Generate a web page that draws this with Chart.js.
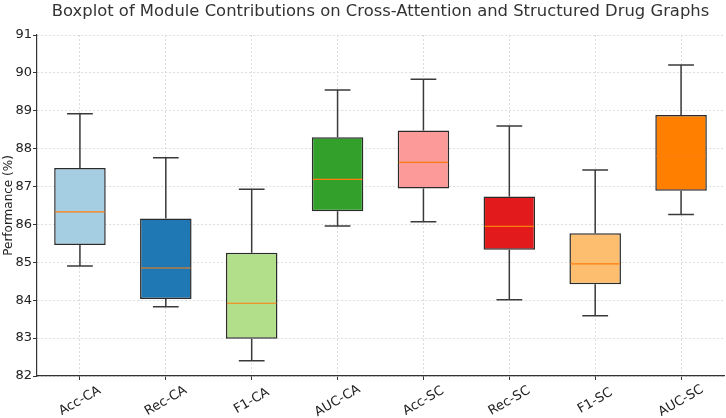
<!DOCTYPE html>
<html>
<head>
<meta charset="utf-8">
<script src="https://cdn.jsdelivr.net/npm/chart.js@4.4.0/dist/chart.umd.min.js"></script>
<style>
  html, body { margin: 0; padding: 0; background: #fff; }
  #wrap { width: 726px; height: 418px; }
</style>
</head>
<body>
<div id="wrap"><canvas id="chart" width="726" height="418"></canvas></div>
<script>
// values
const categories = ["Acc-CA", "Rec-CA", "F1-CA", "AUC-CA", "Acc-SC", "Rec-SC", "F1-SC", "AUC-SC"];
const whiskerLow = [84.90, 83.83, 82.40, 85.96, 86.07, 84.01, 83.59, 86.26];
const q1 = [85.46, 84.03, 82.98, 86.35, 86.95, 85.33, 84.42, 86.89];
const median = [86.33, 84.85, 83.92, 87.19, 87.64, 85.95, 84.96, 87.80];
const q3 = [87.49, 86.16, 85.25, 88.30, 88.48, 86.74, 85.77, 88.89];
const whiskerHigh = [88.92, 87.76, 86.93, 89.55, 89.83, 88.60, 87.44, 90.21];
const yTicks = [82, 83, 84, 85, 86, 87, 88, 89, 90, 91];

const titleText = "Boxplot of Module Contributions on Cross-Attention and Structured Drug Graphs";
const boxColors = ["#a6cee3", "#1f78b4", "#b2df8a", "#33a02c", "#fb9a99", "#e31a1c", "#fdbf6f", "#ff7f00"];
const FONT = "'DejaVu Sans', sans-serif";

// whiskers behind the boxes, medians on top
const boxplotPlugin = {
  id: "boxplot",
  beforeDatasetsDraw(chart) {
    const { ctx } = chart;
    const y = chart.scales.y;
    const meta = chart.getDatasetMeta(0);
    ctx.save();
    ctx.strokeStyle = "#3a3a3a";
    ctx.lineWidth = 1.5;
    meta.data.forEach((bar, i) => {
      const cx = bar.x;
      const half = bar.width / 4;
      const yLo = y.getPixelForValue(whiskerLow[i]);
      const yHi = y.getPixelForValue(whiskerHigh[i]);
      ctx.beginPath();
      ctx.moveTo(cx, y.getPixelForValue(q1[i]));
      ctx.lineTo(cx, yLo);
      ctx.moveTo(cx, y.getPixelForValue(q3[i]));
      ctx.lineTo(cx, yHi);
      ctx.moveTo(cx - half, yLo);
      ctx.lineTo(cx + half, yLo);
      ctx.moveTo(cx - half, yHi);
      ctx.lineTo(cx + half, yHi);
      ctx.stroke();
    });
    ctx.restore();
  },
  afterDatasetsDraw(chart) {
    const { ctx } = chart;
    const y = chart.scales.y;
    const meta = chart.getDatasetMeta(0);
    ctx.save();
    ctx.strokeStyle = "#ff7f0e";
    ctx.lineWidth = 1.2;
    meta.data.forEach((bar, i) => {
      const ym = y.getPixelForValue(median[i]);
      ctx.beginPath();
      ctx.moveTo(bar.x - bar.width / 2 + 1, ym);
      ctx.lineTo(bar.x + bar.width / 2 - 1, ym);
      ctx.stroke();
    });
    ctx.restore();
  },
  // rotated category labels centred under each tick, title centred over the plot
  afterDraw(chart) {
    const { ctx, chartArea } = chart;
    const x = chart.scales.x;
    ctx.save();
    ctx.fillStyle = "#222";
    ctx.font = "13px " + FONT;
    ctx.textAlign = "center";
    ctx.textBaseline = "middle";
    categories.forEach((c, i) => {
      ctx.save();
      ctx.translate(x.getPixelForValue(i), chartArea.bottom + 25);
      ctx.rotate(-Math.PI / 6);
      ctx.fillText(c, 0, 0);
      ctx.restore();
    });
    ctx.fillStyle = "#333";
    ctx.font = "16.4px " + FONT;
    ctx.textBaseline = "alphabetic";
    ctx.fillText(titleText, (chartArea.left + chartArea.right) / 2, 15.5);
    ctx.restore();
  },
};

new Chart(document.getElementById("chart"), {
  type: "bar",
  data: {
    labels: categories,
    datasets: [
      {
        data: categories.map((c, i) => [q1[i], q3[i]]),
        backgroundColor: boxColors,
        borderColor: "#2b2b2b",
        borderWidth: 1.5,
        borderSkipped: false,
        barPercentage: 0.6,
        categoryPercentage: 1.0,
      },
    ],
  },
  options: {
    responsive: false,
    animation: false,
    layout: { padding: { left: 2, right: 2, top: 35, bottom: 38 } },
    plugins: {
      legend: { display: false },
      tooltip: { enabled: false },
      title: { display: false },
    },
    scales: {
      x: {
        offset: true,
        grid: {
          offset: false,
          color: "#dcdcdc",
          tickColor: "#333",
          tickLength: 4,
        },
        border: { color: "#333", width: 1.2, dash: [2, 2] },
        ticks: { display: false },
      },
      y: {
        min: 82,
        max: 91,
        afterBuildTicks: (s) => { s.ticks = yTicks.map((v) => ({ value: v })); },
        afterFit: (s) => { s.width = 35; },
        grid: {
          color: "#dcdcdc",
          tickColor: "#333",
          tickLength: 4,
        },
        border: { color: "#333", width: 1.2, dash: [2, 2] },
        ticks: {
          color: "#222",
          padding: 1,
          font: { family: FONT, size: 13 },
        },
        title: {
          display: true,
          text: "Performance (%)",
          color: "#222",
          padding: 0,
          font: { family: FONT, size: 12 },
        },
      },
    },
  },
  plugins: [boxplotPlugin],
});
</script>
</body>
</html>
